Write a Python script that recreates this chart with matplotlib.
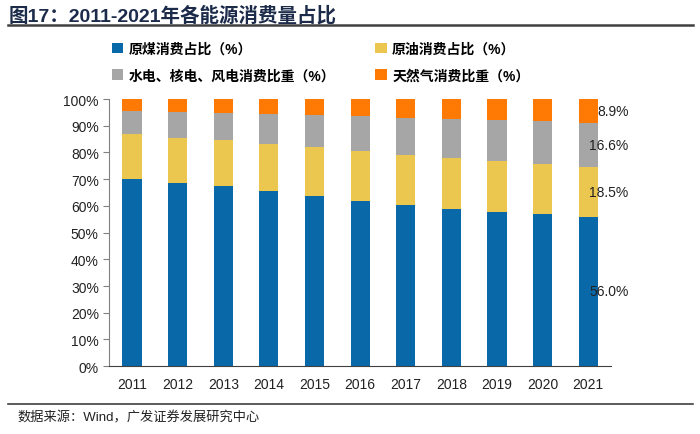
import numpy as np
import matplotlib
matplotlib.use('Agg')
import matplotlib.pyplot as plt
from matplotlib.patches import Patch
from matplotlib.ticker import PercentFormatter

plt.rcParams['font.family'] = ['Liberation Sans', 'Noto Sans CJK SC', 'DejaVu Sans']

years = ['2011', '2012', '2013', '2014', '2015', '2016', '2017', '2018', '2019', '2020', '2021']
coal = [70.2, 68.5, 67.4, 65.6, 63.7, 62.0, 60.4, 59.0, 57.7, 56.9, 56.0]
oil = [16.8, 17.0, 17.1, 17.4, 18.3, 18.5, 18.8, 18.9, 19.0, 18.8, 18.5]
clean = [8.4, 9.7, 10.2, 11.3, 12.1, 13.3, 13.8, 14.5, 15.3, 15.9, 16.6]
gas = [4.6, 4.8, 5.3, 5.7, 5.9, 6.2, 7.0, 7.6, 8.0, 8.4, 8.9]

series = [coal, oil, clean, gas]
names = ['原煤消费占比（%）', '原油消费占比（%）', '水电、核电、风电消费比重（%）', '天然气消费比重（%）']
colors = ['#0868a8', '#ebc74f', '#a6a6a6', '#ff7a05']

fig = plt.figure(figsize=(7, 4.35), dpi=100)
ax = fig.add_axes([0.156, 0.156, 0.717, 0.614])

x = np.arange(len(years))
bottom = np.zeros(len(years))
for vals, c in zip(series, colors):
    v = np.array(vals) / 100
    ax.bar(x, v, 0.42, bottom=bottom, color=c, edgecolor='none')
    # labels only for the last year
    ax.annotate('%.1f%%' % vals[-1], (x[-1], bottom[-1] + v[-1] / 2),
                xytext=(29, 0), textcoords='offset points', ha='right', va='center',
                fontsize=10, color='#222222', annotation_clip=False)
    bottom += v

ax.set_xlim(-0.5, len(years) - 0.5)
ax.set_ylim(0, 1)
ax.set_yticks(np.arange(0, 1.01, 0.1))
ax.yaxis.set_major_formatter(PercentFormatter(1.0, decimals=0))
ax.set_xticks(x)
ax.set_xticklabels(years)
ax.tick_params(axis='y', direction='out', length=4, color='#808080', labelsize=10, labelcolor='#222222')
ax.tick_params(axis='x', length=0, labelsize=10, labelcolor='#222222', pad=8)
for s in ['top', 'right']:
    ax.spines[s].set_visible(False)
ax.spines['left'].set_color('#808080')
ax.spines['bottom'].set_color('#404040')

# legend filled by column, so order: coal, clean / oil, gas
order = [0, 2, 1, 3]
handles = [Patch(facecolor=colors[i], edgecolor='none') for i in order]
labels = [names[i] for i in order]
fig.legend(handles, labels, loc='upper left', bbox_to_anchor=(0.142, 0.93), ncol=2,
           frameon=False, prop={'size': 10, 'weight': 'bold'}, handlelength=0.8, handleheight=0.8,
           handletextpad=0.4, columnspacing=2.9, labelspacing=0.9)

fig.text(0.012, 0.965, '图17：2011-2021年各能源消费量占比', fontsize=14, fontweight='bold',
         color='#1c2b4a', va='center')
fig.add_artist(plt.Line2D([0.012, 0.99], [0.94, 0.94], color='#404040', lw=1.8))
fig.add_artist(plt.Line2D([0.012, 0.99], [0.07, 0.07], color='#404040', lw=1.2))
fig.text(0.025, 0.038, '数据来源：Wind，广发证券发展研究中心', fontsize=9.5, color='#222222', va='center')

fig.savefig('out.png', dpi=100)
